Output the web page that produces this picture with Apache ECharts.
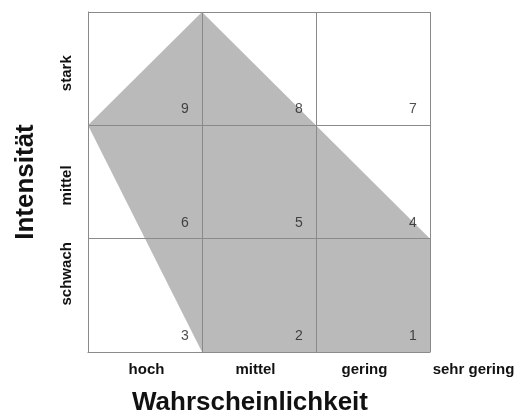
<!DOCTYPE html>
<html>
<head>
<meta charset="utf-8">
<script src="https://cdn.jsdelivr.net/npm/echarts@6/dist/echarts.min.js"></script>
<style>
  html, body { margin: 0; padding: 0; background: #fff; }
  #main { width: 523px; height: 417px; }
</style>
</head>
<body>
<div id="main"></div>
<script type="text/javascript">
	// Risk matrix data
	var xLabels = ['hoch', 'mittel', 'gering', 'sehr gering'];
	var yLabels = ['schwach', 'mittel', 'stark'];
	// cell numbers, bottom row first, left to right
	var cellNumbers = [
		[3, 2, 1],
		[6, 5, 4],
		[9, 8, 7]
	];
	// shaded area corners, in cell units
	var areaPoints = [[1, 3], [0, 2], [1, 0], [3, 0], [3, 1]];

	// where the y labels sit along the axis (cell units)
	var yLabelPos = [0.69, 1.47, 2.46];

	var numberData = [];
	for (var r = 0; r < cellNumbers.length; r++) {
		for (var c = 0; c < cellNumbers[r].length; c++) {
			numberData.push([c + 1, r, cellNumbers[r][c]]);
		}
	}

	var lineColor = '#8a8a8a';
	var chart = echarts.init(document.getElementById('main'));
	chart.setOption({
		animation: false,
		grid: [
			{ left: 88, top: 12, width: 342, height: 340, outerBoundsMode: 'none', containLabel: false },
			{ left: 92, top: 12, width: 436, height: 340, outerBoundsMode: 'none', containLabel: false }
		],
		xAxis: [
			{
				type: 'value', gridIndex: 0, min: 0, max: 3, interval: 1,
				axisLine: { show: true, lineStyle: { color: lineColor } },
				axisTick: { show: false },
				axisLabel: { show: false },
				splitLine: { show: true, lineStyle: { color: lineColor, width: 1 } },
				name: 'Wahrscheinlichkeit',
				nameLocation: 'middle',
				nameGap: 38,
				nameTextStyle: {
					fontFamily: 'Liberation Sans', fontWeight: 'bold', fontSize: 26,
					color: '#111', padding: [0, 18, 0, 0]
				}
			},
			{
				type: 'category', gridIndex: 1, data: xLabels,
				axisLine: { show: false },
				axisTick: { show: false },
				axisLabel: {
					margin: 10, fontFamily: 'Liberation Sans', fontWeight: 'bold',
					fontSize: 15, color: '#111'
				}
			}
		],
		yAxis: [
			{
				type: 'value', gridIndex: 0, min: 0, max: 3, interval: 1,
				axisLine: { show: true, lineStyle: { color: lineColor } },
				axisTick: { show: false },
				axisLabel: {
					show: true, rotate: 90, margin: 14,
					customValues: yLabelPos,
					formatter: function (v) {
						var i = yLabelPos.indexOf(v);
						return i >= 0 ? yLabels[i] : '';
					},
					fontFamily: 'Liberation Sans', fontWeight: 'bold',
					fontSize: 15, color: '#111'
				},
				splitLine: { show: true, lineStyle: { color: lineColor, width: 1 } },
				name: 'Intensität',
				nameLocation: 'middle',
				nameRotate: 90,
				nameGap: 49,
				nameTextStyle: {
					fontFamily: 'Liberation Sans', fontWeight: 'bold', fontSize: 26,
					color: '#111'
				}
			},
			{ type: 'value', gridIndex: 1, show: false }
		],
		series: [
			{
				type: 'custom',
				xAxisIndex: 0, yAxisIndex: 0,
				z: -1,
				data: [[0, 0]],
				renderItem: function (params, api) {
					var pts = areaPoints.map(function (p) { return api.coord(p); });
					return {
						type: 'polygon',
						shape: { points: pts },
						style: { fill: '#bababa' }
					};
				}
			},
			{
				type: 'scatter',
				xAxisIndex: 0, yAxisIndex: 0,
				symbolSize: 1,
				itemStyle: { color: 'rgba(0,0,0,0)' },
				data: numberData,
				label: {
					show: true,
					position: 'inside',
					offset: [-17, -16],
					formatter: function (p) { return p.value[2]; },
					fontFamily: 'Liberation Sans', fontSize: 14, color: '#222'
				}
			}
		]
	});
</script>
</body>
</html>
